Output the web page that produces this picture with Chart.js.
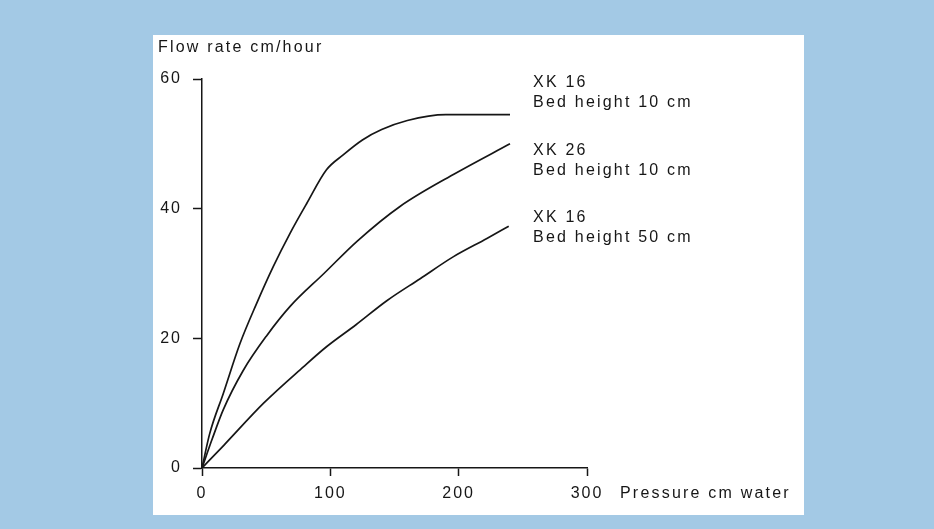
<!DOCTYPE html>
<html>
<head>
<meta charset="utf-8">
<script src="https://cdn.jsdelivr.net/npm/chart.js@4"></script>
<style>
  html, body { margin: 0; padding: 0; background: #a3c9e5; }
  #wrap { width: 934px; height: 529px; }
</style>
</head>
<body>
<div id="wrap"><canvas id="chart" width="934" height="529"></canvas></div>
<script>
// values
const pressure1 = [0, 6, 16.6, 29.6, 42.6, 55.6, 68.6, 81.6, 97, 110, 125, 140, 160, 190, 240];
const flow1 = [0, 5.3, 11.5, 19.2, 25.4, 31.1, 36.2, 40.8, 46, 48.3, 50.6, 52.2, 53.6, 54.5, 54.5];
const pressure2 = [0, 8, 16.6, 32, 50, 69, 95, 121, 154, 198, 240];
const flow2 = [0, 4.5, 9, 15, 20.3, 25, 30, 35, 40.3, 45.5, 50];
const pressure3 = [0, 17, 48, 79, 97, 120, 144, 170, 196, 222, 239];
const flow3 = [0, 3.5, 10, 15.6, 18.7, 22.1, 25.8, 29.2, 32.6, 35.4, 37.3];

const seriesNames = ['XK 16', 'XK 26', 'XK 16'];
const seriesBeds = ['Bed height 10 cm', 'Bed height 10 cm', 'Bed height 50 cm'];
const xTicks = [0, 100, 200, 300];
const yTicks = [0, 20, 40, 60];
const yTitle = 'Flow rate cm/hour';
const xTitle = 'Pressure cm water';

function toPoints(xs, ys) {
    return xs.map((x, i) => ({ x: x, y: ys[i] }));
}

const ink = '#161616';
const fontFamily = '"Liberation Sans", Arial, sans-serif';

// background, white panel and free texts
const decor = {
    id: 'decor',
    beforeDraw(chart) {
        const c = chart.ctx;
        c.save();
        c.fillStyle = '#a3c9e5';
        c.fillRect(0, 0, chart.width, chart.height);
        c.fillStyle = '#ffffff';
        c.fillRect(153, 35, 651, 480);
        c.restore();
        c.letterSpacing = '2px';
    },
    afterDraw(chart) {
        const c = chart.ctx;
        const xs = chart.scales.x;
        const ys = chart.scales.y;
        c.save();
        c.fillStyle = ink;
        c.letterSpacing = '2.2px';
        c.font = '16px ' + fontFamily;
        c.textBaseline = 'middle';
        c.textAlign = 'left';
        c.fillText(yTitle, 158, 48);
        c.fillText(xTitle, xs.right + 33, ys.bottom + 26);
        // series labels next to the line ends
        const labelY = [59.4, 48.9, 38.6];
        labelY.forEach((v, i) => {
            const px = xs.getPixelForValue(258);
            const py = ys.getPixelForValue(v);
            c.fillText(seriesNames[i], px, py);
            c.fillText(seriesBeds[i], px, py + 20);
        });
        c.restore();
    }
};

const lineStyle = {
    borderColor: ink,
    borderWidth: 1.7,
    pointRadius: 0,
    fill: false,
    cubicInterpolationMode: 'monotone'
};

new Chart(document.getElementById('chart'), {
    type: 'line',
    data: {
        datasets: [
            Object.assign({ label: seriesNames[0], data: toPoints(pressure1, flow1) }, lineStyle),
            Object.assign({ label: seriesNames[1], data: toPoints(pressure2, flow2) }, lineStyle),
            Object.assign({ label: seriesNames[2], data: toPoints(pressure3, flow3) }, lineStyle)
        ]
    },
    options: {
        responsive: false,
        animation: false,
        layout: { padding: { left: 0, top: 79, right: 347, bottom: 0 } },
        plugins: { legend: { display: false }, tooltip: { enabled: false } },
        scales: {
            x: {
                type: 'linear',
                min: 0,
                max: 300,
                afterBuildTicks(scale) { scale.ticks = xTicks.map(v => ({ value: v })); },
                afterFit(scale) { scale.height = 61; },
                grid: { drawOnChartArea: false, tickLength: 8, color: ink, tickWidth: 1.5 },
                border: { display: true, color: ink, width: 1.5 },
                ticks: { color: ink, padding: 8, font: { family: fontFamily, size: 16 }, maxRotation: 0 }
            },
            y: {
                type: 'linear',
                min: 0,
                max: 60,
                afterBuildTicks(scale) { scale.ticks = yTicks.map(v => ({ value: v })); },
                afterFit(scale) { scale.width = 202; },
                grid: { drawOnChartArea: false, tickLength: 9, color: ink, tickWidth: 1.5 },
                border: { display: true, color: ink, width: 1.5 },
                ticks: { color: ink, padding: 11, font: { family: fontFamily, size: 16 } }
            }
        }
    },
    plugins: [decor]
});
</script>
</body>
</html>
